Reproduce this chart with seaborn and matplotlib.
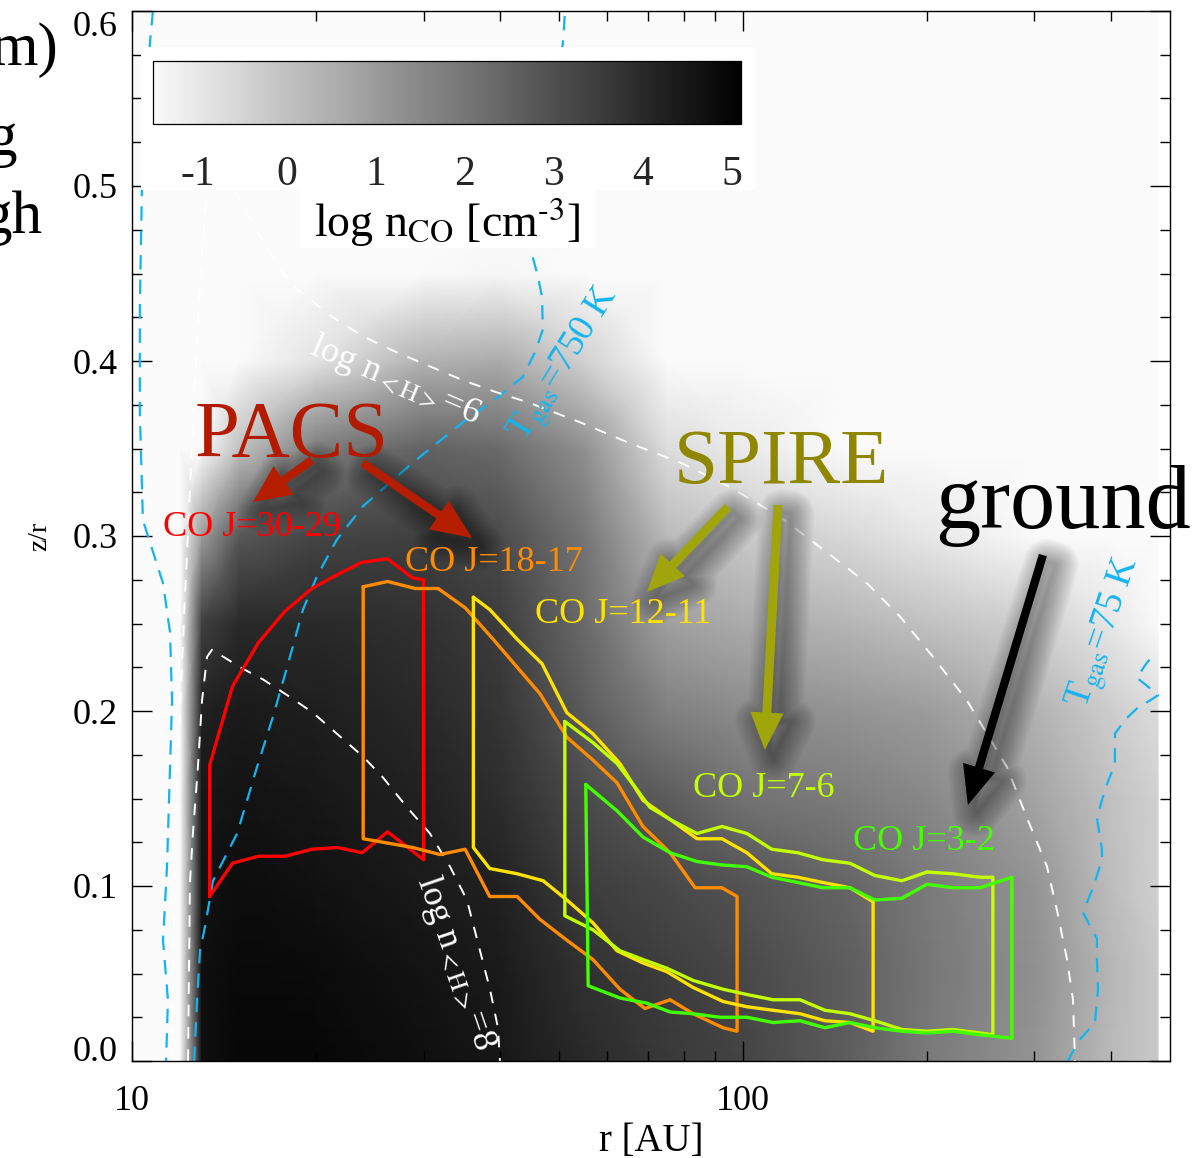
import numpy as np
import pandas as pd
import matplotlib
matplotlib.use('Agg')
import matplotlib.pyplot as plt
import seaborn as sns
from matplotlib.colors import LinearSegmentedColormap
from matplotlib.patches import Rectangle
from matplotlib.ticker import MultipleLocator, NullFormatter
from matplotlib.patheffects import AbstractPathEffect, Normal

sns.set_theme(style='white')
plt.rcParams['font.family'] = ['Liberation Serif', 'DejaVu Serif']
plt.rcParams['mathtext.fontset'] = 'stix'
plt.rcParams['axes.unicode_minus'] = False

# ---------------- data ----------------
# background: log n_CO on a coarse (r, z/r) grid
grid_r = [10, 12, 13, 15, 20, 30, 40, 55, 75, 100, 150, 200, 300, 400, 478]
grid_z = [0.0, 0.05, 0.10, 0.15, 0.20, 0.25, 0.30, 0.35, 0.40, 0.45, 0.50, 0.60]
log_nco = [
    [-2, -2, 4.7, 4.9, 4.9, 4.7, 4.5, 4.0, 3.6, 3.3, 2.6, 1.9, 1.2, 0.2, -0.2],
    [-2, -2, 4.7, 4.85, 4.8, 4.6, 4.4, 3.8, 3.5, 3.2, 2.6, 2.0, 1.3, 0.3, -0.2],
    [-2, -2, 4.6, 4.75, 4.65, 4.4, 4.2, 3.5, 3.2, 2.9, 2.4, 1.9, 1.2, 0.1, -0.4],
    [-2, -2, 4.5, 4.6, 4.5, 4.2, 3.9, 3.1, 2.7, 2.1, 1.8, 1.5, 0.8, 0.0, -0.4],
    [-2, -2, 4.2, 4.4, 4.3, 4.0, 3.7, 2.7, 1.7, 1.4, 1.2, 1.0, 0.4, -0.3, -0.7],
    [-2, -2, 3.4, 4.0, 4.0, 3.8, 3.5, 2.3, 0.9, 0.6, 0.3, 0.0, -0.4, -1.0, -1.5],
    [-2, -2, 1.0, 2.8, 3.3, 3.4, 3.1, 2.0, 0.2, -0.2, -0.6, -1.0, -1.5, -2, -2],
    [-2, -2, -2, 0.0, 1.8, 2.5, 2.3, 1.3, -0.7, -1.1, -1.7, -2, -2, -2, -2],
    [-2, -2, -2, -2, -0.9, 0.4, 0.6, -0.4, -1.7, -2, -2, -2, -2, -2, -2],
    [-2, -2, -2, -2, -2, -1.5, -1.4, -2, -2, -2, -2, -2, -2, -2, -2],
    [-2] * 15,
    [-2] * 15,
]
cbar_min, cbar_max = -1.5, 5.1
cbar_ticks = [-1, 0, 1, 2, 3, 4, 5]

# gas temperature contours
t750_r = [12.64, 12.78, 12.92, 13.17, 13.57, 14.86, 16.02, 17.02, 17.94, 19.05, 20.08, 21.65,
          23.88, 28.83, 34.82, 39.57, 43.64, 45.66, 47.05, 46.88, 46.18, 45.32, 44.82, 47.42, 50.75, 51.13]
t750_z = [0.0, 0.035, 0.063, 0.077, 0.103, 0.130, 0.168, 0.197, 0.225, 0.258, 0.277, 0.298,
          0.317, 0.342, 0.365, 0.379, 0.391, 0.405, 0.418, 0.437, 0.448, 0.459, 0.465, 0.521, 0.582, 0.6]
tleft_r = [10.82, 10.70, 10.38, 10.30, 10.30, 10.42, 11.24, 11.54, 11.63, 11.54, 11.41, 11.24, 11.45, 11.37]
tleft_z = [0.6, 0.582, 0.498, 0.43, 0.37, 0.309, 0.273, 0.245, 0.206, 0.168, 0.111, 0.069, 0.035, 0.0]
t75_r = [340.3, 353.4, 376.8, 381.1, 379.6, 379.6, 372.5, 360.1, 374.0, 386.9, 386.9, 379.6, 391.3,
         406.3, 406.3, 421.9, 443.1, 463.6, 477.8, 463.6, 441.4, 455.0, 468.8]
t75_z = [0.0, 0.011, 0.022, 0.041, 0.058, 0.070, 0.075, 0.085, 0.099, 0.115, 0.121, 0.139, 0.155,
         0.170, 0.187, 0.195, 0.202, 0.206, 0.209, 0.213, 0.219, 0.226, 0.232]

# total hydrogen density contours
n6_r = [11.6, 11.8, 12.2, 12.5, 12.8, 13.1, 13.3, 13.5, 15.0, 16.0, 17.5, 18.5, 19.6, 21.1, 23.9, 27.1,
        30.7, 34.8, 39.6, 44.8, 54.1, 65.3, 78.9, 95.2, 114.9, 140.4, 159.6, 180.7, 204.6, 232.6,
        250.8, 270.4, 291.6, 314.6, 326.6, 339.2, 346.9, 349.5]
n6_z = [0.0, 0.149, 0.263, 0.342, 0.418, 0.475, 0.509, 0.521, 0.492, 0.475, 0.452, 0.442, 0.435, 0.426,
        0.414, 0.405, 0.397, 0.389, 0.382, 0.376, 0.365, 0.353, 0.342, 0.328, 0.311, 0.288, 0.273,
        0.254, 0.231, 0.206, 0.187, 0.168, 0.139, 0.111, 0.086, 0.058, 0.035, 0.0]
n8_r = [12.35, 12.44, 12.58, 12.82, 13.02, 13.27, 13.52, 15.03, 16.39, 18.14, 19.78, 21.65, 23.88,
        25.75, 28.19, 30.74, 33.16, 35.34, 37.12, 38.54, 39.72, 40.02]
n8_z = [0.0, 0.102, 0.130, 0.168, 0.206, 0.231, 0.235, 0.225, 0.218, 0.208, 0.199, 0.187, 0.174,
        0.162, 0.145, 0.130, 0.111, 0.092, 0.063, 0.041, 0.019, 0.0]

# emitting regions of the CO lines
co3029_r = [13.4, 13.4, 14.6, 16.1, 17.8, 19.7, 21.7, 23.8, 26.2, 28.8, 30.0, 30.0, 26.2, 23.8, 21.7,
            19.7, 17.8, 16.1, 14.6, 13.4]
co3029_z = [0.094, 0.169, 0.214, 0.239, 0.257, 0.270, 0.278, 0.285, 0.287, 0.276, 0.275, 0.115, 0.131,
            0.119, 0.122, 0.121, 0.117, 0.117, 0.113, 0.094]
co1817_r = [23.9, 26.2, 29.1, 31.7, 35.1, 39.0, 42.7, 46.5, 51.5, 56.8, 62.2, 68.6, 76.0, 83.5, 92.4,
            97.8, 97.8, 92.8, 82.9, 76.0, 69.1, 62.9, 56.8, 51.5, 46.5, 42.7, 38.5, 35.1, 31.9, 28.8,
            23.9, 23.9]
co1817_z = [0.271, 0.274, 0.270, 0.270, 0.259, 0.241, 0.225, 0.210, 0.185, 0.172, 0.159, 0.134, 0.119,
            0.099, 0.099, 0.094, 0.017, 0.019, 0.027, 0.035, 0.030, 0.041, 0.058, 0.069, 0.081, 0.094,
            0.094, 0.121, 0.118, 0.122, 0.127, 0.271]
co1211_r = [36.2, 38.5, 42.7, 46.9, 51.5, 56.8, 62.9, 68.6, 76.0, 84.1, 92.4, 101.5, 111.5, 123.0,
            135.2, 149.7, 163.3, 163.3, 149.7, 136.2, 124.0, 112.0, 101.5, 92.8, 82.9, 75.1, 68.6,
            62.2, 56.8, 51.5, 47.1, 42.7, 38.5, 36.2, 36.2]
co1211_z = [0.265, 0.258, 0.241, 0.227, 0.199, 0.187, 0.170, 0.149, 0.138, 0.127, 0.127, 0.119, 0.107,
            0.105, 0.102, 0.099, 0.091, 0.017, 0.022, 0.023, 0.027, 0.029, 0.031, 0.034, 0.042, 0.051,
            0.056, 0.063, 0.079, 0.092, 0.103, 0.107, 0.110, 0.122, 0.265]
co76_r = [51.1, 56.8, 62.2, 67.1, 70.4, 76.0, 84.1, 92.4, 101.5, 111.5, 123.0, 135.2, 149.7, 164.4,
          182.1, 200.1, 220.7, 244.3, 256.5, 256.5, 244.3, 220.7, 200.1, 182.1, 164.4, 149.7, 136.2,
          124.0, 112.0, 101.5, 92.8, 82.9, 75.1, 68.6, 62.9, 56.8, 51.1, 51.1]
co76_z = [0.194, 0.182, 0.170, 0.155, 0.145, 0.138, 0.130, 0.134, 0.130, 0.121, 0.119, 0.115, 0.113,
          0.106, 0.103, 0.108, 0.107, 0.105, 0.105, 0.015, 0.016, 0.018, 0.017, 0.018, 0.023, 0.027,
          0.029, 0.035, 0.035, 0.038, 0.041, 0.046, 0.053, 0.058, 0.063, 0.075, 0.083, 0.194]
co32_r = [55.3, 62.2, 68.6, 76.0, 84.1, 92.4, 101.5, 111.5, 123.0, 135.2, 149.7, 164.4, 182.1, 200.1,
          220.7, 244.3, 275.6, 275.6, 244.3, 220.7, 200.1, 182.1, 164.4, 149.7, 136.2, 124.0, 112.0,
          101.5, 91.7, 82.9, 76.0, 69.7, 62.9, 55.8, 55.3]
co32_z = [0.158, 0.143, 0.128, 0.119, 0.114, 0.112, 0.111, 0.105, 0.102, 0.099, 0.099, 0.092, 0.093,
          0.101, 0.099, 0.099, 0.105, 0.013, 0.015, 0.017, 0.016, 0.017, 0.019, 0.022, 0.019, 0.023,
          0.022, 0.025, 0.025, 0.027, 0.028, 0.033, 0.036, 0.043, 0.158]

line_names = ['CO J=30-29', 'CO J=18-17', 'CO J=12-11', 'CO J=7-6', 'CO J=3-2']
line_colors = ['#FF0000', '#FF8C00', '#FFE200', '#C4FF00', '#44FF00']
line_label_pos = [(11.24, 0.300), (27.98, 0.280), (45.66, 0.2503), (82.85, 0.1509), (151.4, 0.1206)]

# ---------------- figure ----------------
fig = plt.figure(figsize=(12.04, 11.58), dpi=100)
ax = fig.add_axes([132 / 1204, 1 - 1061 / 1158, (1170 - 132) / 1204, (1061 - 11) / 1158])
ax.set_facecolor('white')
ax.set_xscale('log')

cmap = LinearSegmentedColormap.from_list('nco', ['#FAFAFA', '#000000'])
cmap.set_under('#FBFBFB')
R, Z = np.meshgrid(np.array(grid_r, float), np.array(grid_z, float))
mesh = ax.pcolormesh(R, Z, np.array(log_nco, float), cmap=cmap, vmin=cbar_min, vmax=cbar_max,
                     shading='gouraud', zorder=0)

cyan = '#14B4F0'
for rr, zz in [(tleft_r, tleft_z), (t750_r, t750_z), (t75_r, t75_z)]:
    ax.plot(rr, zz, color=cyan, lw=1.6, ls=(0, (6.5, 4.5)), zorder=2)
for rr, zz in [(n6_r, n6_z), (n8_r, n8_z)]:
    ax.plot(rr, zz, color='white', lw=1.4, ls=(0, (6.0, 5.5)), zorder=2)

polys = [(co3029_r, co3029_z), (co1817_r, co1817_z), (co1211_r, co1211_z),
         (co76_r, co76_z), (co32_r, co32_z)]
for (rr, zz), name, col in zip(polys, line_names, line_colors):
    df = pd.DataFrame({'r': rr, 'z': zz})
    sns.lineplot(data=df, x='r', y='z', sort=False, estimator=None, color=col, lw=2.4,
                 ax=ax, zorder=3)
for name, col, (px, pz) in zip(line_names, line_colors, line_label_pos):
    ax.text(px, pz, name, color=col, fontsize=26, ha='left', va='baseline', zorder=6)

ax.set_xlim(10, 500)
ax.set_ylim(0, 0.6)

# contour labels
ax.text(26.94, 0.3891, r'log n$_{\mathrm{<H>}}$=6', color='white', fontsize=26, rotation=-23,
        ha='center', va='center', rotation_mode='anchor', zorder=6)
ax.text(33.78, 0.056, r'log n$_{\mathrm{<H>}}$=8', color='white', fontsize=26, rotation=-71,
        ha='center', va='center', rotation_mode='anchor', zorder=6)
ax.text(51.13, 0.3977, r'T$_{\mathrm{gas}}$=750 K', color=cyan, fontsize=27, rotation=58,
        ha='center', va='center', rotation_mode='anchor', zorder=6)
ax.text(391.3, 0.2446, r'T$_{\mathrm{gas}}$=75 K', color=cyan, fontsize=27, rotation=71,
        ha='center', va='center', rotation_mode='anchor', zorder=6)

# instrument labels
pacs_c, spire_c, spire_arrow_c, pacs_arrow_c = '#B31B00', '#8F8700', '#A0A50C', '#B51D00'
ax.text(18.27, 0.3451, 'PACS', color=pacs_c, fontsize=58, ha='center', va='baseline', zorder=6)
ax.text(115.8, 0.3303, 'SPIRE', color=spire_c, fontsize=57, ha='center', va='baseline', zorder=6)
ax.text(333.9, 0.3046, 'ground', color='black', fontsize=65, ha='center', va='baseline', zorder=6)


class SoftShadow(AbstractPathEffect):
    """Blurred drop shadow built from stacked translucent outline strokes."""

    def __init__(self, offset=(6, -6), widths=tuple(np.linspace(2, 34, 16)), alpha=0.025):
        super().__init__(offset)
        self.widths = widths
        self.alpha = alpha

    def draw_path(self, renderer, gc, tpath, affine, rgbFace=None):
        aff = affine + self._offset_transform(renderer)
        for w in self.widths:
            gc0 = renderer.new_gc()
            gc0.copy_properties(gc)
            gc0.set_linewidth(w)
            gc0.set_foreground((0, 0, 0, self.alpha), isRGBA=True)
            gc0.set_joinstyle('round')
            renderer.draw_path(gc0, tpath, aff, None)
            gc0.restore()


def arrow(tail, tip, color, tw, hw, hl):
    ann = ax.annotate('', xy=tip, xytext=tail, xycoords='data', textcoords='data', zorder=5,
                      arrowprops=dict(arrowstyle=f'simple,head_length={hl},head_width={hw},tail_width={tw}',
                                      fc=color, ec='none', shrinkA=0, shrinkB=0, mutation_scale=1))
    ann.arrow_patch.set_path_effects([SoftShadow(), Normal()])


arrow((19.71, 0.3434), (15.78, 0.3194), pacs_arrow_c, 6.0, 25, 27)
arrow((23.88, 0.3417), (36.02, 0.2989), pacs_arrow_c, 6.0, 25, 29)
arrow((94.5, 0.3166), (69.65, 0.268), spire_arrow_c, 6.5, 24, 27)
arrow((114.1, 0.3177), (108.6, 0.1777), spire_arrow_c, 6.5, 24, 27)
arrow((309.7, 0.2891), (233.4, 0.1463), 'black', 6.0, 24, 28)

# ticks
ax.set_yticks([0.0, 0.1, 0.2, 0.3, 0.4, 0.5, 0.6])
ylabs = ax.set_yticklabels(['0.0', '0.1', '0.2', '0.3', '0.4', '0.5', '0.6'])
ylabs[0].set_va('baseline')
ylabs[-1].set_va('top')
ax.yaxis.set_minor_locator(MultipleLocator(0.025))
ax.set_xticks([10, 100])
ax.set_xticklabels(['10', '100'])
ax.set_xticks([20, 30, 40, 50, 60, 70, 80, 90, 200, 300, 400], minor=True)
ax.xaxis.set_minor_formatter(NullFormatter())
ax.tick_params(which='both', direction='in', top=True, right=True, bottom=True, left=True,
               color='black', width=1.0, labelsize=26, labelcolor='black')
ax.tick_params(which='major', length=14.5)
ax.tick_params(which='minor', length=7.2)
ax.tick_params(axis='y', pad=10)
ax.tick_params(axis='x', pad=17)
for sp in ax.spines.values():
    sp.set_color('black')
    sp.set_linewidth(1.0)
    sp.set_zorder(7)
ax.set_xlabel('r [AU]', fontsize=28, labelpad=4, color='black')
ax.set_ylabel('z/r', fontsize=20, labelpad=15, color='black')

# white boxes behind the colour bar and its label
ax.add_patch(Rectangle((141 / 1204, 1 - 190 / 1158), 614 / 1204, 143 / 1158, transform=fig.transFigure,
                       facecolor='white', edgecolor='none', zorder=8, clip_on=False))
ax.add_patch(Rectangle((300 / 1204, 1 - 248 / 1158), 295 / 1204, 59 / 1158, transform=fig.transFigure,
                       facecolor='white', edgecolor='none', zorder=8, clip_on=False))

# colour bar
cax = fig.add_axes([153 / 1204, 1 - 124 / 1158, 588 / 1204, 63 / 1158])
cb = fig.colorbar(mesh, cax=cax, orientation='horizontal', ticks=cbar_ticks)
cb.ax.set_xticklabels([str(t) for t in cbar_ticks])
cb.ax.xaxis.set_minor_locator(MultipleLocator(0.1))
cb.ax.tick_params(which='both', direction='in', top=True, bottom=True, labeltop=False,
                  labelbottom=True, color='black', width=0.8, labelsize=30, pad=23)
cb.ax.tick_params(which='major', length=5)
cb.ax.tick_params(which='minor', length=2.5)
cb.outline.set_edgecolor('black')
cb.outline.set_linewidth(0.9)
fig.text(447 / 1204, 1 - 237 / 1158, r'log n$_{\mathrm{CO}}$ [cm$^{\text{-3}}$]', fontsize=33,
         ha='center', va='baseline', color='black')

# fragments of the neighbouring panel's text (cut by the left edge, as in the original)
fig.text(58 / 1204, 1 - 65 / 1158, 'm)', fontsize=44, ha='right', va='baseline', color='black')
fig.text(17 / 1204, 1 - 155 / 1158, 'g', fontsize=44, ha='right', va='baseline', color='black')
fig.text(42 / 1204, 1 - 233 / 1158, 'gh', fontsize=44, ha='right', va='baseline', color='black')

fig.savefig('out.png', dpi=100)
